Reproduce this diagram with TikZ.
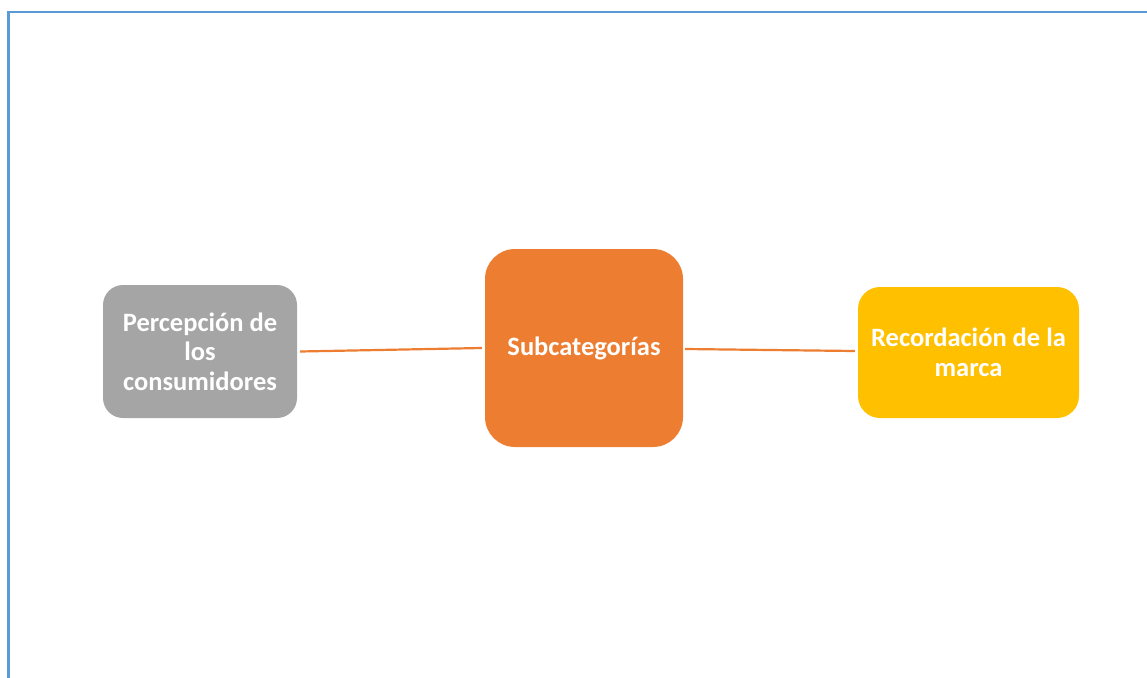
\documentclass[tikz,border=0pt]{standalone}
\usepackage{fontspec}
\setmainfont{Carlito}
\definecolor{gbox}{HTML}{A5A5A5}
\definecolor{obox}{HTML}{ED7D31}
\definecolor{ybox}{HTML}{FFC000}
\definecolor{frameblue}{HTML}{5B9BD5}
\begin{document}
\begin{tikzpicture}[x=1pt,y=-1pt,
  boxbase/.style={rounded corners=20pt, inner sep=0pt, align=center, text=white,
    font=\fontsize{26.5}{29.5}\selectfont\bfseries},
  link/.style={draw=obox, line width=2.2pt}]
\useasboundingbox (0,0) rectangle (1147,677);
\draw[frameblue, line width=2.6pt] (8.5,690) -- (8.5,12) -- (1160,12);
\node[boxbase, fill=gbox, minimum width=194pt, minimum height=133pt] (perc) at (200,351.5)
  {Percepción de\\los\\consumidores};
\node[boxbase, fill=obox, rounded corners=30pt, minimum width=198pt, minimum height=198pt] (sub) at (584,348)
  {Subcategorías};
\node[boxbase, fill=ybox, rounded corners=22pt, minimum width=221pt, minimum height=131pt] (rec) at (968.5,352.5)
  {Recordación de la\\marca};
\draw[link] ([xshift=3pt]perc.east) -- ([xshift=-3pt]sub.west);
\draw[link] ([xshift=2pt,yshift=-1pt]sub.east) -- ([xshift=-3pt,yshift=1.5pt]rec.west);
\end{tikzpicture}
\end{document}
